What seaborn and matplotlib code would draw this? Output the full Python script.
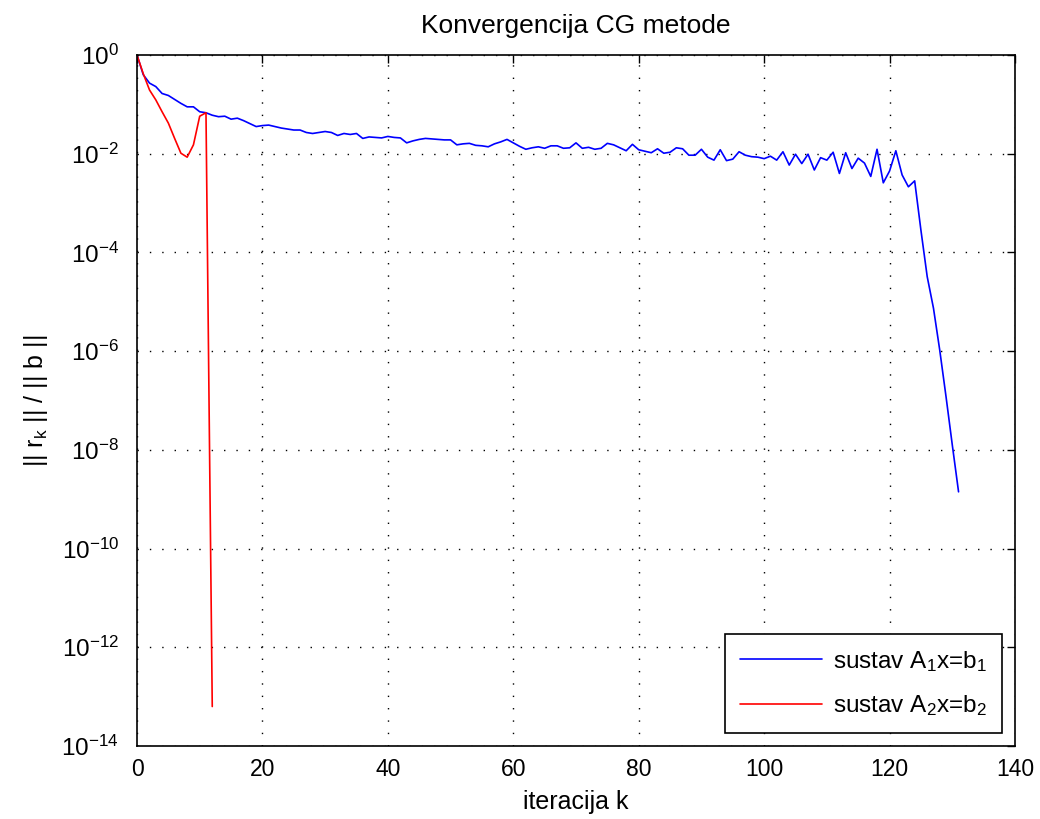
import numpy as np
import pandas as pd
import matplotlib
matplotlib.use("Agg")
import matplotlib.pyplot as plt
import seaborn as sns

# log10 of relative residual ||r_k|| / ||b||
log_res_1 = [
    0.0, -0.40, -0.57, -0.64, -0.78, -0.82, -0.90, -0.98, -1.05, -1.05,
    -1.15, -1.17, -1.22, -1.25, -1.24, -1.30, -1.28, -1.33, -1.39, -1.45,
    -1.43, -1.42, -1.45, -1.48, -1.50, -1.52, -1.52, -1.57, -1.59, -1.57,
    -1.55, -1.57, -1.63, -1.59, -1.61, -1.59, -1.69, -1.66, -1.67, -1.68,
    -1.65, -1.67, -1.68, -1.78, -1.74, -1.71, -1.69, -1.70, -1.71, -1.72,
    -1.72, -1.82, -1.80, -1.79, -1.83, -1.84, -1.86, -1.80, -1.76, -1.71,
    -1.78, -1.85, -1.91, -1.88, -1.86, -1.89, -1.84, -1.84, -1.89, -1.88,
    -1.78, -1.89, -1.87, -1.91, -1.89, -1.79, -1.82, -1.88, -1.94, -1.81,
    -1.92, -1.95, -1.98, -1.90, -1.99, -1.97, -1.88, -1.90, -2.03, -2.03,
    -1.91, -2.07, -2.13, -1.92, -2.14, -2.11, -1.96, -2.03, -2.06, -2.07,
    -2.10, -2.05, -2.13, -1.96, -2.23, -2.01, -2.20, -2.01, -2.33, -2.08,
    -2.13, -1.97, -2.40, -1.98, -2.30, -2.09, -2.19, -2.46, -1.91, -2.59,
    -2.35, -1.94, -2.43, -2.67, -2.55, -3.55, -4.49, -5.13, -5.98, -6.92,
    -7.90, -8.85,
]
log_res_2 = [
    0.0, -0.38, -0.71, -0.91, -1.15, -1.38, -1.69, -1.99, -2.07, -1.82,
    -1.24, -1.17, -13.2,
]
labels = ["sustav A$_\\mathregular{1}$x=b$_\\mathregular{1}$",
          "sustav A$_\\mathregular{2}$x=b$_\\mathregular{2}$"]
x_ticks = [0, 20, 40, 60, 80, 100, 120, 140]
y_ticks = [1e0, 1e-2, 1e-4, 1e-6, 1e-8, 1e-10, 1e-12, 1e-14]


def build_frame():
    rows = []
    for lab, series in zip(labels, [log_res_1, log_res_2]):
        for k, v in enumerate(series):
            rows.append([k, 10.0 ** v, lab])
    return pd.DataFrame(rows, columns=["k", "res", "sustav"])


def main():
    sns.set_style("white")
    plt.rcParams["font.family"] = ["Liberation Sans", "DejaVu Sans"]
    plt.rcParams["mathtext.default"] = "regular"
    plt.rcParams["xtick.direction"] = "in"
    plt.rcParams["ytick.direction"] = "in"
    for key in ["text.color", "axes.labelcolor", "xtick.color", "ytick.color"]:
        plt.rcParams[key] = "black"

    df = build_frame()

    fig = plt.figure(figsize=(10.4, 8.19), dpi=100)
    ax = fig.add_axes([137 / 1040, 1 - 746 / 819, 878 / 1040, 691 / 819])
    ax.set_yscale("log")
    sns.lineplot(data=df, x="k", y="res", hue="sustav", palette=["#0000ff", "#ff0000"],
                 linewidth=1.2, ax=ax, sort=False, estimator=None)

    ax.set_xlim(0, 140)
    ax.set_ylim(1e-14, 1e0)
    ax.set_xticks(x_ticks)
    ax.set_yticks(y_ticks)
    ax.minorticks_off()
    ax.tick_params(length=6, width=1, color="black", top=True, right=True)
    ax.tick_params(axis="x", labelsize=16.5, pad=9)
    ax.tick_params(axis="y", labelsize=17.5, pad=13)
    ax.grid(True, linestyle=(0, (1, 7.9)), color="black", linewidth=1.0)
    for s in ax.spines.values():
        s.set_color("black")
        s.set_linewidth(1.2)

    ax.set_title("Konvergencija CG metode", fontsize=19, pad=16)
    ax.set_xlabel("iteracija k", fontsize=18, labelpad=6)
    ax.set_ylabel("|| r$_\\mathregular{k}$ || / || b ||", fontsize=18, labelpad=8)

    leg = ax.legend(loc="lower right", fontsize=17.5, handlelength=3.4,
                    handletextpad=0.45, labelspacing=0.8, borderpad=0.6,
                    borderaxespad=0.55, frameon=True, fancybox=False,
                    edgecolor="black", framealpha=1)
    leg.get_frame().set_linewidth(1.2)

    fig.savefig("out.png", dpi=100)


if __name__ == "__main__":
    main()
